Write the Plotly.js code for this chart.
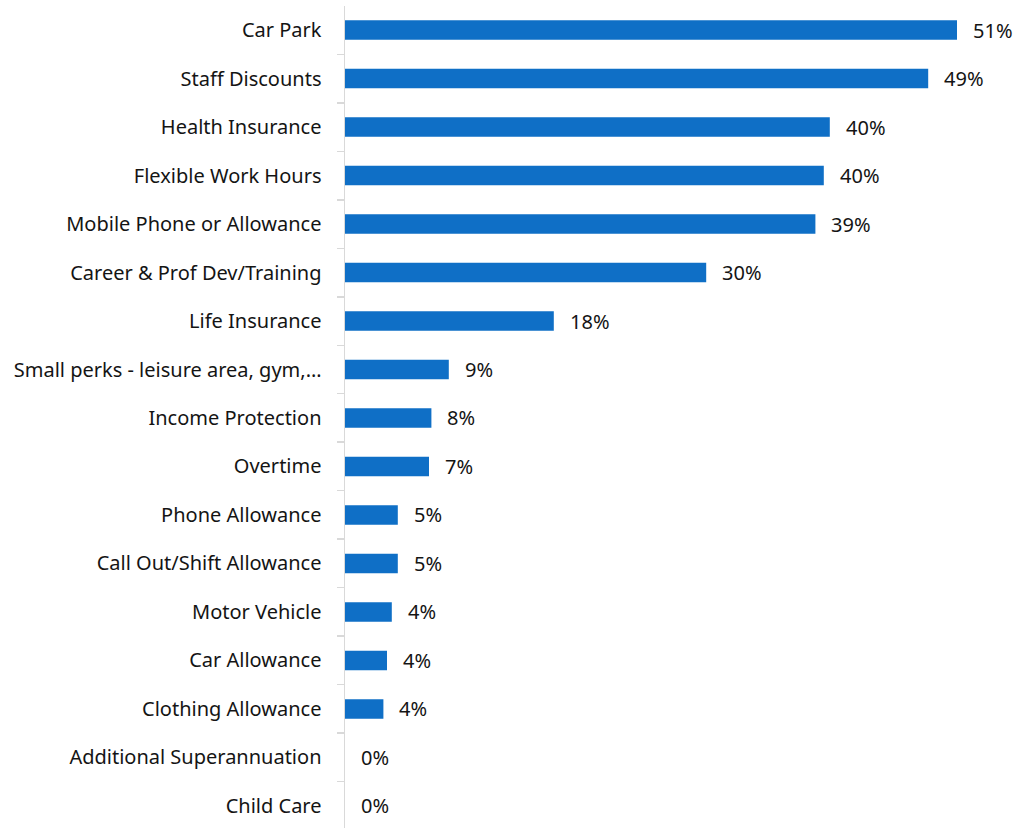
<!DOCTYPE html>
<html>
<head>
<meta charset="utf-8">
<script src="https://cdn.plot.ly/plotly-3.0.1.min.js"></script>
<style>html,body{margin:0;padding:0;background:#fff;}#chart{width:1035px;height:828px;}</style>
</head>
<body>
<div id="chart"></div>
<script>
const categories = [
  "Car Park", "Staff Discounts", "Health Insurance", "Flexible Work Hours",
  "Mobile Phone or Allowance", "Career & Prof Dev/Training", "Life Insurance",
  "Small perks - leisure area, gym,…", "Income Protection", "Overtime",
  "Phone Allowance", "Call Out/Shift Allowance", "Motor Vehicle",
  "Car Allowance", "Clothing Allowance", "Additional Superannuation", "Child Care"
];
// bar lengths as drawn (percent)
const values = [51.0, 48.6, 40.4, 39.9, 39.2, 30.1, 17.4, 8.65, 7.2, 7.0, 4.4, 4.4, 3.9, 3.5, 3.2, 0, 0];
// data labels as printed
const valueLabels = ["51%", "49%", "40%", "40%", "39%", "30%", "18%", "9%", "8%", "7%", "5%", "5%", "4%", "4%", "4%", "0%", "0%"];

const FONT = "'Noto Sans', 'Open Sans', sans-serif";
const TXT = "#141414";

const trace = {
  type: "bar",
  orientation: "h",
  x: values,
  y: categories,
  marker: {color: "#0F6FC6"},
  hoverinfo: "none"
};

const annotations = categories.map((c, i) => ({
  x: values[i], y: c, xref: "x", yref: "y",
  text: valueLabels[i], showarrow: false,
  xanchor: "left", xshift: 14,
  font: {family: FONT, size: 20, color: TXT}
}));

const layout = {
  width: 1035, height: 828,
  margin: {l: 345, r: 15, t: 6, b: 0, pad: 0},
  paper_bgcolor: "#fff", plot_bgcolor: "#fff",
  bargap: 0.6,
  showlegend: false,
  xaxis: {range: [0, 56.25], showgrid: false, zeroline: false, showticklabels: false, showline: false, fixedrange: true},
  yaxis: {
    type: "category",
    range: [16.454, -0.495],
    showgrid: false, zeroline: false,
    showline: true, linecolor: "#d9d9d9", linewidth: 1.5,
    ticks: "outside", tickson: "boundaries", ticklen: 7, tickcolor: "#d9d9d9", tickwidth: 1.5,
    ticklabelstandoff: 18,
    tickfont: {family: FONT, size: 20, color: TXT},
    fixedrange: true
  },
  annotations: annotations
};

Plotly.newPlot("chart", [trace], layout, {displayModeBar: false, staticPlot: true});
</script>
</body>
</html>
